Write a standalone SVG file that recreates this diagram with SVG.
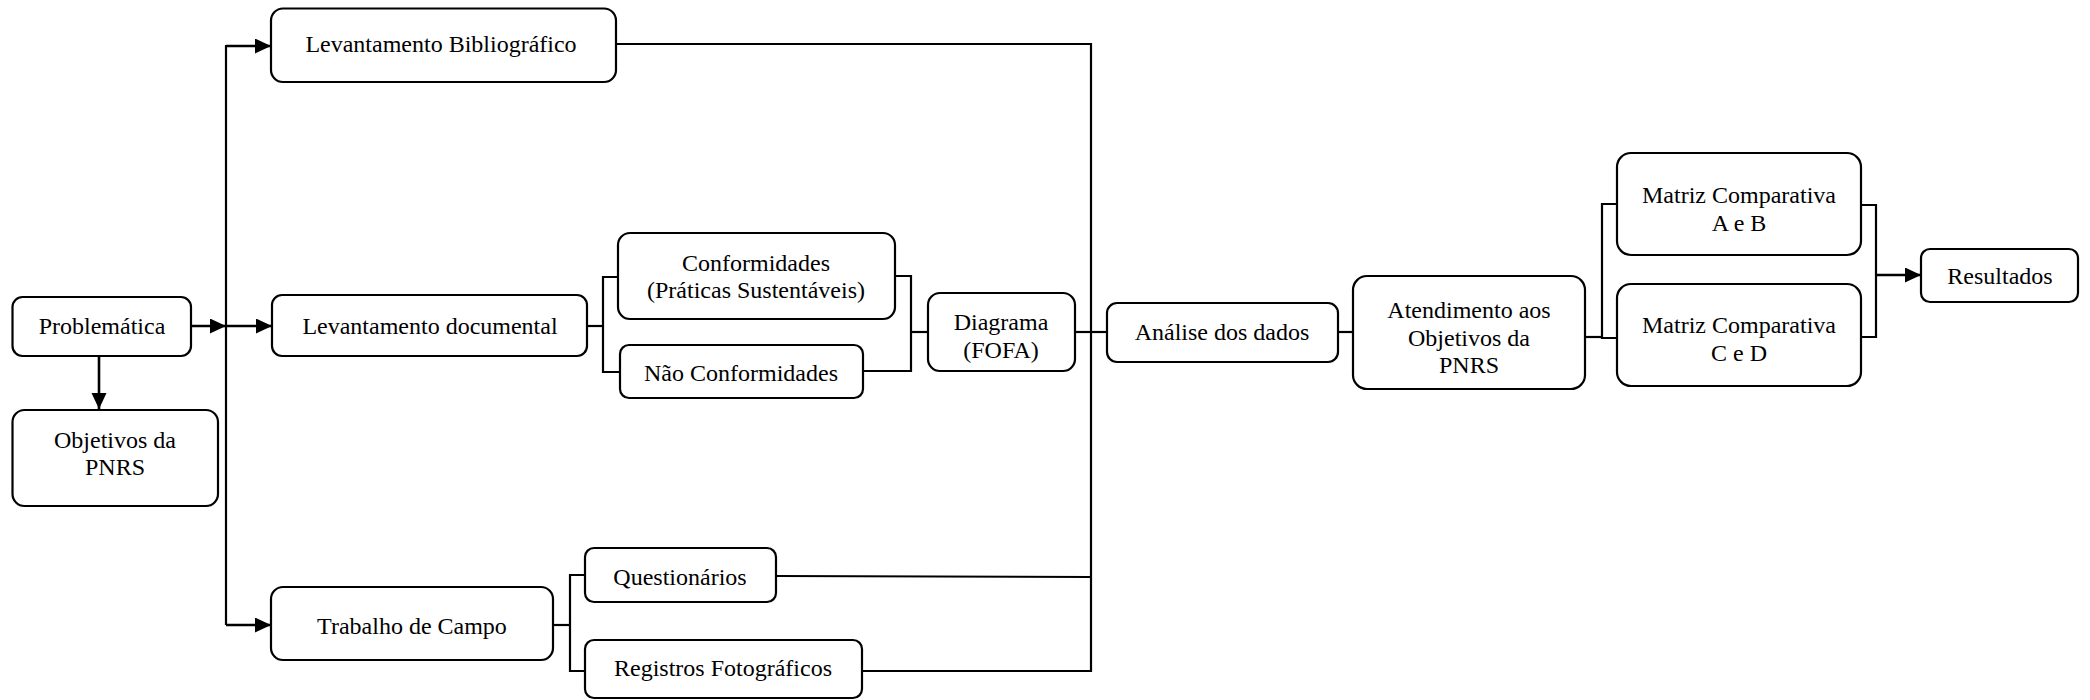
<svg xmlns="http://www.w3.org/2000/svg" width="2090" height="700" viewBox="0 0 2090 700">
<defs>
<marker id="ah" markerWidth="18" markerHeight="16" refX="16" refY="7.5" orient="auto" markerUnits="userSpaceOnUse">
<path d="M0,0 L16,7.5 L0,15 Z" fill="#000"/>
</marker>
<style>
.box{fill:#fff;stroke:#000;stroke-width:2.2}
.ln{fill:none;stroke:#000;stroke-width:2.2}
.ar{fill:none;stroke:#000;stroke-width:2.6}
text{font-family:"Liberation Serif","Times New Roman",serif;font-size:24px;fill:#000;text-anchor:middle}
</style>
</defs>
<rect width="2090" height="700" fill="#fff"/>
<g id="connectors">
<line class="ar" x1="191" y1="326" x2="226" y2="326" marker-end="url(#ah)"/>
<polyline class="ln" points="226,45 226,625"/>
<line class="ar" x1="226" y1="46" x2="271" y2="46" marker-end="url(#ah)"/>
<line class="ar" x1="226" y1="326" x2="272" y2="326" marker-end="url(#ah)"/>
<line class="ar" x1="226" y1="625" x2="271" y2="625" marker-end="url(#ah)"/>
<line class="ar" x1="99" y1="356" x2="99" y2="409" marker-end="url(#ah)"/>
<polyline class="ln" points="587,326 603,326"/>
<polyline class="ln" points="618,277 603,277 603,372 620,372"/>
<polyline class="ln" points="895,276 911,276 911,371 863,371"/>
<polyline class="ln" points="911,332 928,332"/>
<polyline class="ln" points="1075,332 1107,332"/>
<polyline class="ln" points="615,44 1091,44 1091,671 862,671"/>
<polyline class="ln" points="776,576 1091,577"/>
<polyline class="ln" points="1338,332 1353,332"/>
<polyline class="ln" points="1585,337 1602,337"/>
<polyline class="ln" points="1617,204 1602,204 1602,338 1617,338"/>
<polyline class="ln" points="1861,205 1876,205 1876,337 1861,337"/>
<line class="ar" x1="1876" y1="275" x2="1921" y2="275" marker-end="url(#ah)"/>
<polyline class="ln" points="553,625 570,625"/>
<polyline class="ln" points="585,575 570,575 570,671 585,671"/>
</g>
<g id="n-problematica"><rect class="box" x="12.5" y="297" width="178.5" height="59" rx="10"/><text x="102" y="334">Problemática</text></g>
<g id="n-objetivos"><rect class="box" x="12.5" y="410" width="205.5" height="96" rx="12"/><text x="115" y="448">Objetivos da</text><text x="115" y="475">PNRS</text></g>
<g id="n-levbib"><rect class="box" x="271" y="8.5" width="345" height="73.5" rx="12"/><text x="441" y="51.5">Levantamento Bibliográfico</text></g>
<g id="n-levdoc"><rect class="box" x="272" y="295" width="315" height="61" rx="10"/><text x="430" y="334">Levantamento documental</text></g>
<g id="n-trabalho"><rect class="box" x="271" y="587" width="282" height="73" rx="12"/><text x="412" y="634">Trabalho de Campo</text></g>
<g id="n-conformidades"><rect class="box" x="618" y="233" width="277" height="86" rx="12"/><text x="756" y="271">Conformidades</text><text x="756" y="298">(Práticas Sustentáveis)</text></g>
<g id="n-naoconf"><rect class="box" x="620" y="345" width="243" height="53" rx="9"/><text x="741" y="381">Não Conformidades</text></g>
<g id="n-questionarios"><rect class="box" x="585" y="548" width="191" height="54" rx="9"/><text x="680" y="585">Questionários</text></g>
<g id="n-registros"><rect class="box" x="585" y="640" width="277" height="58" rx="9"/><text x="723" y="676">Registros Fotográficos</text></g>
<g id="n-diagrama"><rect class="box" x="928" y="293" width="147" height="78" rx="12"/><text x="1001" y="330">Diagrama</text><text x="1001" y="358">(FOFA)</text></g>
<g id="n-analise"><rect class="box" x="1107" y="303" width="231" height="59" rx="10"/><text x="1222" y="340">Análise dos dados</text></g>
<g id="n-atendimento"><rect class="box" x="1353" y="276" width="232" height="113" rx="14"/><text x="1469" y="318">Atendimento aos</text><text x="1469" y="346">Objetivos da</text><text x="1469" y="373">PNRS</text></g>
<g id="n-matrizab"><rect class="box" x="1617" y="153" width="244" height="102" rx="14"/><text x="1739" y="203">Matriz Comparativa</text><text x="1739" y="231">A e B</text></g>
<g id="n-matrizcd"><rect class="box" x="1617" y="284" width="244" height="102" rx="14"/><text x="1739" y="333">Matriz Comparativa</text><text x="1739" y="361">C e D</text></g>
<g id="n-resultados"><rect class="box" x="1921" y="249" width="157" height="53" rx="9"/><text x="2000" y="284">Resultados</text></g>
</svg>
